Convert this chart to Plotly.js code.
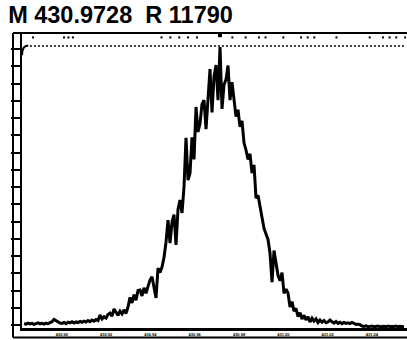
<!DOCTYPE html>
<html>
<head>
<meta charset="utf-8">
<script src="https://cdn.plot.ly/plotly-3.0.1.min.js"></script>
<style>html,body{margin:0;padding:0;background:#fff;}#chart{width:407px;height:340px;}</style>
</head>
<body>
<div id="chart"></div>
<script>
// Peak profile: relative intensity (%) sampled uniformly in m/z
const mzStart = 430.88293;
const mzStep = 0.000903;
const intensity = [
  0.5,0.3,0.7,0.4,0.6,0.2,0.5,0.8,0.4,0.6,0.3,0.7,0.5,0.9,
  1.2,2.0,1.6,1.0,0.7,
  0.6,0.9,0.5,1.0,0.8,1.2,0.7,1.1,0.9,1.3,
  1.0,1.4,1.1,1.6,1.2,1.8,1.4,2.0,1.6,
  3.6,2.2,3.0,2.5,3.8,4.3,3.2,5.8,4.5,3.5,
  5.0,4.0,5.5,4.2,6.5,10.0,8.0,11.0,9.0,12.5,
  12.7,10.5,13.5,11.5,14.0,16.3,17.5,13.0,9.8,20.6,
  19.0,21.0,24.5,30.0,38.0,29.7,37.3,40.0,29.0,42.0,
  45.3,40.6,50.0,67.8,52.5,55,68,60,79,70,
  73,80,81.5,71,83,92.7,77,90,94.2,81.5,
  100.7,78.3,87,89,94,81.5,88,82,75.5,78,
  71.8,74,66,63.4,60,62,55,58,46,47,
  43,38,35,33,31,26,15.5,27,22,18,
  16,19,11.5,13,11.6,6.5,8.5,5.0,6.0,3.0,
  4.5,2.2,3.5,1.8,3.0,1.1,2.5,1.4,2.2,0.9,
  1.8,1.0,1.6,0.8,1.1,1.8,1.2,0.7,1.3,0.6,
  1.0,0.5,0.9,0.6,0.8,0.5,0.9,0.4,0.2,0.3,
  0.1,
  -0.4,-0.5,-0.3,-0.6,-0.5,-0.4,-0.6,-0.5,-0.4,-0.6,-0.5,
  -0.5,-0.6,-0.4,-0.5,-0.6,-0.5,-0.4,-0.6,-0.5,-0.5,-0.6
];
const xTickVals = [430.90, 430.92, 430.94, 430.96, 430.98, 431.00, 431.02, 431.04];
const xTickText = ["430.90", "430.92", "430.94", "430.96", "430.98", "431.00", "431.02", "431.04"];
const refLineMz = [430.8838, 431.0550];
const refLineLevel = [101.1, 101.1];
const topMarksMz = [430.8870, 430.9010, 430.9030, 430.9050, 430.9450, 430.9490, 430.9530, 430.9570, 430.9610,
  430.9770, 430.9830, 430.9890, 430.9920, 431.0000, 431.0080, 431.0110, 431.0140, 431.0240, 431.0390,
  431.0450, 431.0480, 431.0510, 431.0550];
const topMarksLevel = 104.2;
const apexMz = 430.9714;
const titleText = "M 430.9728  R 11790";

const traces = [
  {
    x: refLineMz, y: refLineLevel, mode: 'lines', type: 'scatter',
    line: {color: '#000', width: 1.6, dash: '2px,2px'}, hoverinfo: 'skip'
  },
  {
    x: topMarksMz, y: topMarksMz.map(() => topMarksLevel), mode: 'markers', type: 'scatter',
    marker: {symbol: 'square', size: 2, color: '#000'}, hoverinfo: 'skip'
  },
  {
    x: [apexMz], y: [105], mode: 'markers', type: 'scatter',
    marker: {symbol: 'square', size: 4, color: '#000'}, hoverinfo: 'skip'
  },
  {
    y: intensity, x0: mzStart, dx: mzStep, mode: 'lines', type: 'scatter',
    line: {color: '#000', width: 3}
  }
];

const pxL = -9/385; // outer frame left edge relative to plot
const pyB = -9.5/295;

const layout = {
  width: 407, height: 340,
  margin: {l: 22, r: 0, t: 33, b: 12, pad: 0},
  paper_bgcolor: '#fff', plot_bgcolor: '#fff',
  showlegend: false,
  title: {
    text: titleText,
    font: {family: 'Liberation Sans, Arial, sans-serif', size: 23.5, color: '#000', weight: 'bold'},
    x: 0.02, xref: 'container', xanchor: 'left',
    y: 0.982, yref: 'container', yanchor: 'top'
  },
  xaxis: {
    range: [430.88202, 431.05585],
    showgrid: false, zeroline: false,
    showline: true, linecolor: '#000', linewidth: 3,
    tickmode: 'array', tickvals: xTickVals, ticktext: xTickText,
    ticks: '', tickfont: {family: 'Liberation Sans, Arial, sans-serif', size: 4, color: '#000', weight: 'bold'},
    fixedrange: true
  },
  yaxis: {
    range: [-1.087, 105.8],
    showgrid: false, zeroline: false,
    showline: true, linecolor: '#000', linewidth: 2,
    tickmode: 'linear', tick0: 0, dtick: 6.25,
    ticks: 'outside', ticklen: 9, tickwidth: 2, tickcolor: '#000',
    showticklabels: false, fixedrange: true
  },
  shapes: [
    {type: 'line', xref: 'paper', yref: 'paper', x0: pxL, x1: 1, y0: 1, y1: 1, line: {color: '#000', width: 2}},
    {type: 'line', xref: 'paper', yref: 'paper', x0: pxL, x1: pxL, y0: 1, y1: pyB, line: {color: '#000', width: 2}},
    {type: 'line', xref: 'paper', yref: 'paper', x0: pxL, x1: 1, y0: pyB, y1: pyB, line: {color: '#000', width: 2}},
    {type: 'path', xref: 'paper', yref: 'paper',
     path: 'M 0,0.925 Q 0,0.958 0.016,0.958', line: {color: '#000', width: 2}}
  ]
};

Plotly.newPlot('chart', traces, layout, {staticPlot: true, displayModeBar: false});
</script>
</body>
</html>
